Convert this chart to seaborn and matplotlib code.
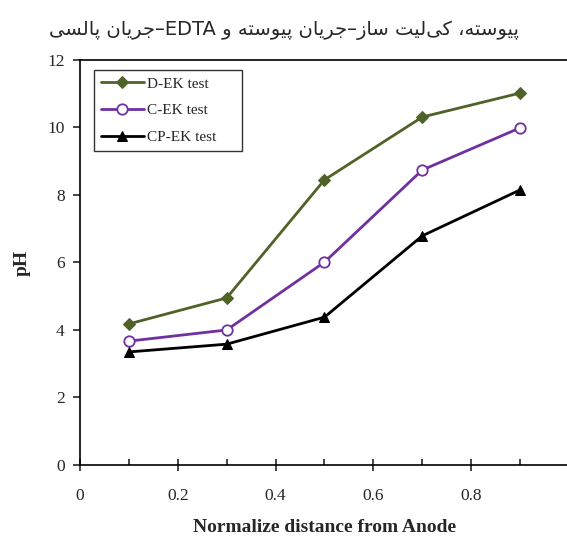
import re
import matplotlib
matplotlib.use('Agg')
import matplotlib.pyplot as plt
import seaborn as sns
from matplotlib.ticker import MultipleLocator

# ── data ──────────────────────────────────────────────────────
distance = [0.1, 0.3, 0.5, 0.7, 0.9]
ph_d_ek = [4.18, 4.95, 8.45, 10.31, 11.02]
ph_c_ek = [3.67, 4.00, 6.01, 8.74, 9.99]
ph_cp_ek = [3.35, 3.58, 4.38, 6.79, 8.15]
series_names = ['D-EK test', 'C-EK test', 'CP-EK test']

title_fa = 'پیوسته، کی\u200cلیت ساز–جریان پیوسته و EDTA–جریان پالسی'
x_label = 'Normalize distance from Anode'
y_label = 'pH'

# matplotlib has no Arabic shaping, so pick presentation forms by hand
# (isolated, final, initial, medial)
FORMS = {
    'ا': ('\uFE8D', '\uFE8E', None, None),
    'پ': ('\uFB56', '\uFB57', '\uFB58', '\uFB59'),
    'ت': ('\uFE95', '\uFE96', '\uFE97', '\uFE98'),
    'ج': ('\uFE9D', '\uFE9E', '\uFE9F', '\uFEA0'),
    'ر': ('\uFEAD', '\uFEAE', None, None),
    'ز': ('\uFEAF', '\uFEB0', None, None),
    'س': ('\uFEB1', '\uFEB2', '\uFEB3', '\uFEB4'),
    'ل': ('\uFEDD', '\uFEDE', '\uFEDF', '\uFEE0'),
    'ن': ('\uFEE5', '\uFEE6', '\uFEE7', '\uFEE8'),
    'ه': ('\uFEE9', '\uFEEA', '\uFEEB', '\uFEEC'),
    'و': ('\uFEED', '\uFEEE', None, None),
    'ی': ('\uFBFC', '\uFBFD', '\uFBFE', '\uFBFF'),
    'ک': ('\uFB8E', '\uFB8F', '\uFB90', '\uFB91'),
}


def joins_left(ch):
    return ch in FORMS and FORMS[ch][2] is not None


def shape_rtl(text):
    out = []
    for i, ch in enumerate(text):
        if ch == '\u200c':
            continue
        if ch not in FORMS:
            out.append(ch)
            continue
        prev = text[i - 1] if i > 0 else ''
        nxt = text[i + 1] if i + 1 < len(text) else ''
        a = joins_left(prev)
        b = joins_left(ch) and nxt in FORMS
        iso, fin, ini, med = FORMS[ch]
        if a and b:
            out.append(med)
        elif a:
            out.append(fin)
        elif b:
            out.append(ini)
        else:
            out.append(iso)
    vis = ''.join(out)[::-1]
    # latin runs keep their own order
    return re.sub(r'[A-Za-z0-9]+', lambda m: m.group(0)[::-1], vis)


sns.set_style('ticks')
plt.rcParams['font.family'] = ['Liberation Serif', 'DejaVu Serif']

fig = plt.figure(figsize=(5.67, 5.37), dpi=100)
ax = fig.add_axes([0.1411, 0.1341, 0.8624, 0.7542])

sns.lineplot(x=distance, y=ph_d_ek, ax=ax, color='#4F6228', lw=2,
             marker='D', ms=6, mfc='#4F6228', mec='#4F6228',
             label=series_names[0])
sns.lineplot(x=distance, y=ph_c_ek, ax=ax, color='#7030A0', lw=2,
             marker='o', ms=7.5, mfc='white', mec='#7030A0', mew=1.3,
             label=series_names[1])
sns.lineplot(x=distance, y=ph_cp_ek, ax=ax, color='black', lw=2,
             marker='^', ms=7.5, mfc='black', mec='black',
             label=series_names[2])

ax.set_xlim(0, 1.0)
ax.set_ylim(0, 12)
ax.xaxis.set_minor_locator(MultipleLocator(0.1))
ax.yaxis.set_major_locator(MultipleLocator(2))
ax.set_xticks([0, 0.2, 0.4, 0.6, 0.8])
ax.set_xticklabels(['0', '0.2', '0.4', '0.6', '0.8'])
ax.tick_params(axis='x', which='major', direction='inout', length=9, width=1.2,
               labelsize=12.5, pad=12, top=False)
ax.tick_params(axis='x', which='minor', direction='in', length=4, width=1.2, top=False)
ax.tick_params(axis='y', which='major', direction='out', length=5, width=1.2,
               labelsize=12.5, pad=6, right=False)
for s in ax.spines.values():
    s.set_linewidth(1.2)
    s.set_color('black')

ax.set_xlabel(x_label, fontsize=14, fontweight='bold', labelpad=11)
ax.set_ylabel(y_label, fontsize=14, fontweight='bold', labelpad=12)

# wide box like the spreadsheet legend: expand to a fixed width
leg = ax.legend(loc='upper left', bbox_to_anchor=(0.029, 0.975, 0.303, 0.0),
                mode='expand', fontsize=11, frameon=True, fancybox=False,
                handlelength=2.8, borderpad=0.45, labelspacing=0.85,
                handletextpad=0.2, borderaxespad=0.0)
leg.get_frame().set_edgecolor('black')
leg.get_frame().set_linewidth(1.0)

fig.text(0.50, 0.943, shape_rtl(title_fa), ha='center', va='center',
         fontsize=14, family=['DejaVu Sans'])

fig.savefig('out.png', dpi=100)
plt.close(fig)
